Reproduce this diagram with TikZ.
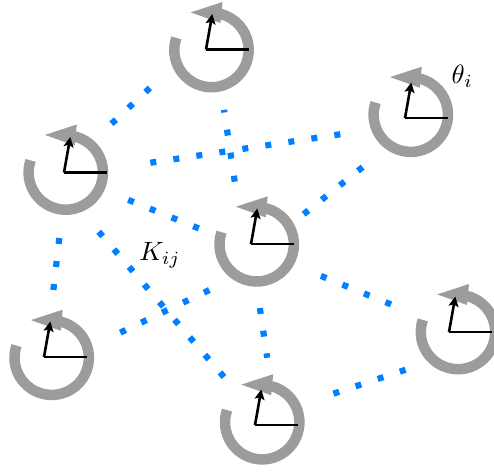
\documentclass[tikz,border=0pt]{standalone}
\usetikzlibrary{arrows.meta}
\definecolor{ringgray}{HTML}{9C9C9C}
\definecolor{linkblue}{HTML}{0080FF}
\tikzset{
  linkline/.style={draw=linkblue,line width=6.2pt,shorten <=-3pt,shorten >=-3pt},
  ringline/.style={draw=ringgray,line width=10.5pt},
  ringhead/.style={fill=ringgray,draw=none},
  handline/.style={draw=black,line width=2.6pt},
  pics/osc/.style n args={2}{code={
    \begin{scope}[shift={(#1,#2)}]
    \draw[ringline] (161:37.2) arc[start angle=161,end angle=436,radius=37.2];
    \fill[ringhead] (-20.8,37.6) -- (11,48) -- (9,27) -- cycle;
    \end{scope}
    \draw[handline] (0,0) -- (43,0);
    \draw[handline,-{Stealth[length=10pt,width=10pt,inset=2pt]}] (0,0) -- (6.3,35.5);
  }},
  mathlabel/.style={scale=2.65,inner sep=0pt}
}
\newcommand\dotlink[4][]{%
  \pgfpointdiff{\pgfpointanchor{#2}{center}}{\pgfpointanchor{#3}{center}}%
  \pgfgetlastxy{\mydx}{\mydy}%
  \pgfmathsetmacro\mygap{veclen(\mydx,\mydy)/(#4-1)-6}%
  \draw[linkline,dash pattern=on 6pt off \mygap pt,#1] (#2) -- (#3);
}
\begin{document}
\begin{tikzpicture}[x=1pt,y=1pt]
\useasboundingbox (0,0) rectangle (494,472);
% oscillators
\coordinate (oa) at (206,422.5);
\coordinate (ob) at (405,354);
\coordinate (oc) at (64,299.5);
\coordinate (od) at (251,228);
\coordinate (oe) at (44,115);
\coordinate (of) at (255,47);
\coordinate (og) at (449,140);
\pic at (oa) {osc={5.5}{-0.5}};
\pic at (ob) {osc={5.8}{3.3}};
\pic at (oc) {osc={1.8}{0}};
\pic at (od) {osc={5.7}{-0.3}};
\pic at (oe) {osc={7.7}{-0.7}};
\pic at (of) {osc={7.2}{2.8}};
\pic at (og) {osc={9}{0}};
% link ends
\coordinate (l1a) at (113.7,350.3); \coordinate (l1b) at (147.7,382);
\coordinate (l2a) at (234.3,293.3); \coordinate (l2b) at (224,362.5);
\coordinate (l3a) at (153.3,309.7); \coordinate (l3b) at (337.3,337.3);
\coordinate (l4a) at (306,259.7);   \coordinate (l4b) at (360.3,303);
\coordinate (l5a) at (131,271);     \coordinate (l5b) at (196,244.7);
\coordinate (l6a) at (100.7,238);   \coordinate (l6b) at (222,97.3);
\coordinate (l7a) at (123,140.7);   \coordinate (l7b) at (206.7,180.7);
\coordinate (l8a) at (59,231);      \coordinate (l8b) at (53.7,185);
\coordinate (l9a) at (260.3,161);   \coordinate (l9b) at (267,115.7);
\coordinate (l10a) at (323.7,195);  \coordinate (l10b) at (388.3,168.7);
\coordinate (l11a) at (336.3,79.3); \coordinate (l11b) at (402.7,101.3);
\dotlink{l1a}{l1b}{3}
\dotlink[shorten >=0.3pt]{l2a}{l2b}{4}
\dotlink{l3a}{l3b}{9}
\dotlink{l4a}{l4b}{4}
\dotlink{l5a}{l5b}{4}
\dotlink{l6a}{l6b}{9}
\dotlink{l7a}{l7b}{5}
\dotlink{l8a}{l8b}{3}
\dotlink[shorten >=-1.5pt]{l9a}{l9b}{3}
\dotlink{l10a}{l10b}{4}
\dotlink{l11a}{l11b}{4}
\node[mathlabel] (theta) at (462.3,396) {$\theta_i$};
\node[mathlabel] (kij) at (160,216.3) {$K_{ij}$};
\end{tikzpicture}
\end{document}
